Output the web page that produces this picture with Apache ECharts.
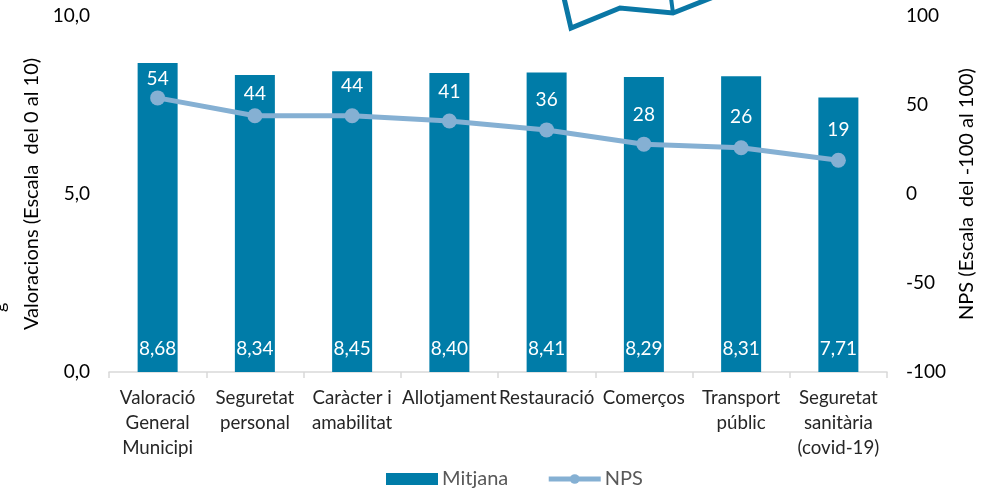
<!DOCTYPE html>
<html><head><meta charset="utf-8">
<style>html,body{margin:0;padding:0;background:#fff}#c{width:996px;height:488px}</style>
<script src="https://cdn.jsdelivr.net/npm/echarts@6/dist/echarts.min.js"></script></head>
<body><div id="c"></div>
<script>
const categories=['Valoració\nGeneral\nMunicipi','Seguretat\npersonal','Caràcter i\namabilitat','Allotjament','Restauració','Comerços','Transport\npúblic','Seguretat\nsanitària\n(covid-19)'];
const mitjana=[8.68,8.34,8.45,8.40,8.41,8.29,8.31,7.71];
const nps=[54,44,44,41,36,28,26,19];
const npsLabelNudge=[8,5,-3,-2,-3,-2,-4,-3];
const F='Lato,"Open Sans",sans-serif';
const chart=echarts.init(document.getElementById('c'),null,{renderer:'canvas'});
chart.setOption({
 animation:false,
 grid:{left:109,right:109,top:16,bottom:116,containLabel:false},
 legend:{top:464,left:381,itemGap:38,itemWidth:52,itemHeight:12,selectedMode:false,
  textStyle:{fontFamily:F,fontSize:20,color:'#595959',padding:[0,0,0,-1]},
  data:[{name:'Mitjana',icon:'rect'},{name:'NPS',lineStyle:{width:5},symbolSize:13}]},
 xAxis:{type:'category',data:categories,axisTick:{show:true,alignWithLabel:false,length:6,lineStyle:{color:'#d9d9d9',width:1.5}},
  axisLine:{lineStyle:{color:'#d9d9d9',width:1.5}},
  axisLabel:{interval:0,fontFamily:F,fontSize:18.7,color:'#262626',lineHeight:25,margin:13}},
 yAxis:[
  {type:'value',min:0,max:10,interval:5,splitLine:{show:false},axisLine:{show:false},axisTick:{show:false},
   name:'Valoracions (Escala  del 0 al 10)',nameLocation:'middle',nameGap:67,nameRotate:90,
   nameTextStyle:{fontFamily:F,fontSize:20,color:'#000'},
   axisLabel:{fontFamily:F,fontSize:19,color:'#000',margin:19,formatter:v=>v.toFixed(1).replace('.',',')}},
  {type:'value',min:-100,max:100,interval:50,splitLine:{show:false},axisLine:{show:false},axisTick:{show:false},
   name:'NPS (Escala  del -100 al 100)',nameLocation:'middle',nameGap:68,nameRotate:90,
   nameTextStyle:{fontFamily:F,fontSize:20,color:'#000'},
   axisLabel:{fontFamily:F,fontSize:19,color:'#000',margin:19,align:'left'}}
 ],
 series:[
  {name:'Mitjana',type:'bar',data:mitjana,barWidth:40,itemStyle:{color:'#007CA8'},
   label:{show:true,position:'insideBottom',distance:14,fontFamily:F,fontSize:19,color:'#fff',formatter:p=>p.value.toFixed(2).replace('.',',')}},
  {name:'NPS',type:'line',yAxisIndex:1,symbol:'circle',symbolSize:15,
   data:nps.map((v,i)=>({value:v,label:{offset:[0,npsLabelNudge[i]]}})),
   lineStyle:{color:'#85B0D3',width:5},itemStyle:{color:'#85B0D3'},
   label:{show:true,position:'top',distance:10,fontFamily:F,fontSize:19,color:'#fff'}}
 ],
 graphic:[
  {type:'polyline',silent:true,shape:{points:[[564,-2],[571,28],[620,8],[673,13],[716,-4]]},style:{fill:null,stroke:'#0A77A5',lineWidth:5,lineJoin:'miter'}},
  {type:'line',silent:true,shape:{x1:671,y1:-2,x2:673,y2:13},style:{stroke:'#0A77A5',lineWidth:4}},
  {type:'text',silent:true,rotation:Math.PI/2,x:-10,y:312,style:{text:'g',fontFamily:F,fontSize:18,fill:'#000'}}
 ]
});
</script></body></html>
